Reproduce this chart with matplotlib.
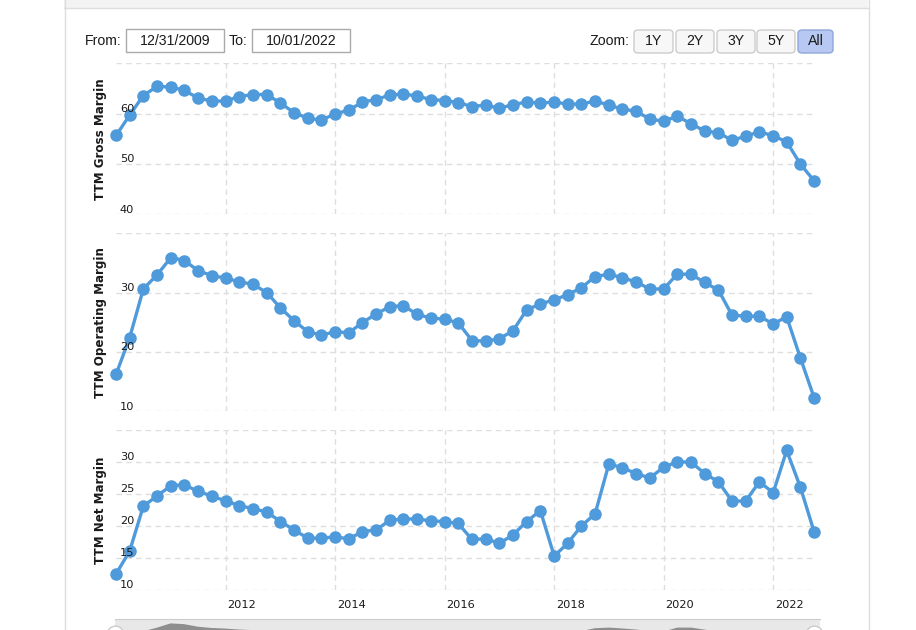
import matplotlib
matplotlib.use('Agg')
import matplotlib.pyplot as plt
from matplotlib.patches import Rectangle, FancyBboxPatch
from matplotlib.transforms import ScaledTranslation, blended_transform_factory
import numpy as np
import pandas as pd
import datetime as dt

# ---------------- data ----------------
dates = pd.date_range('2009-12-31', periods=52, freq='QE')

gross_margin = [55.7, 59.7, 63.6, 65.4, 65.3, 64.6, 63.1, 62.5, 62.5, 63.4,
                63.8, 63.8, 62.1, 60.2, 59.1, 58.7, 60.0, 60.65, 62.3, 62.8,
                63.7, 63.9, 63.5, 62.8, 62.6, 62.2, 61.4, 61.7, 61.05, 61.8,
                62.3, 62.1, 62.3, 61.9, 61.9, 62.5, 61.7, 60.9, 60.5, 58.9,
                58.5, 59.5, 58.0, 56.55, 56.2, 54.7, 55.5, 56.4, 55.6, 54.4,
                50.0, 46.65]

operating_margin = [16.25, 22.4, 30.6, 33.0, 35.9, 35.4, 33.7, 32.85, 32.45, 31.8,
                    31.4, 30.0, 27.4, 25.25, 23.4, 22.8, 23.4, 23.2, 24.9, 26.4,
                    27.6, 27.8, 26.3, 25.7, 25.5, 24.9, 21.9, 21.8, 22.2, 23.55,
                    27.05, 28.1, 28.75, 29.65, 30.8, 32.7, 33.1, 32.5, 31.8, 30.6,
                    30.6, 33.1, 33.1, 31.7, 30.4, 26.2, 26.0, 26.0, 24.7, 25.9,
                    19.0, 12.25]

net_margin = [12.55, 16.1, 23.1, 24.7, 26.3, 26.45, 25.4, 24.7, 23.9, 23.2,
              22.7, 22.2, 20.7, 19.4, 18.1, 18.1, 18.3, 18.0, 19.1, 19.4,
              20.9, 21.1, 21.1, 20.8, 20.7, 20.4, 17.9, 18.0, 17.3, 18.6,
              20.7, 22.4, 15.3, 17.3, 20.0, 21.9, 29.7, 29.1, 28.2, 27.5,
              29.2, 30.0, 30.0, 28.2, 26.9, 23.9, 23.9, 26.9, 25.2, 31.8,
              26.1, 19.1]

year_ticks = [2012, 2014, 2016, 2018, 2020, 2022]
panel_titles = ['TTM Gross Margin', 'TTM Operating Margin', 'TTM Net Margin']
panel_series = [gross_margin, operating_margin, net_margin]
panel_ylims = [(40, 70), (10, 40), (10, 35)]
panel_ysteps = [10, 10, 5]
from_date = '12/31/2009'
to_date = '10/01/2022'
zoom_buttons = ['1Y', '2Y', '3Y', '5Y', 'All']

# ---------------- layout ----------------
W, H = 916, 630
fig = plt.figure(figsize=(W / 100, H / 100), dpi=100)
fig.patch.set_facecolor('white')

def fx(x):
    return x / W

def fy(y):
    return 1 - y / H

def add_axes_px(left, top, right, bottom, **kw):
    return fig.add_axes([fx(left), fy(bottom), (right - left) / W, (bottom - top) / H], **kw)

BLUE = '#4f9ada'
GRID = '#dedede'
TXT = '#1a1a1a'
DASH = (0, (4, 3))

# page frame
fig.add_artist(Rectangle((fx(64), fy(8)), fx(868) - fx(64), 8 / H, transform=fig.transFigure,
                         facecolor='#f3f3f3', edgecolor='none', zorder=0))
fig.add_artist(plt.Line2D([fx(64), fx(868)], [fy(8), fy(8)], color='#dddddd', lw=1))
fig.add_artist(plt.Line2D([fx(64.5), fx(64.5)], [fy(0), fy(630)], color='#dddddd', lw=1))
fig.add_artist(plt.Line2D([fx(868.5), fx(868.5)], [fy(0), fy(630)], color='#dddddd', lw=1))

# From / To controls
ctrl_font = dict(family='Liberation Sans', fontsize=10.2, color=TXT, va='center')
cy = 41
fig.text(fx(85), fy(cy), 'From:', ha='left', **ctrl_font)
fig.text(fx(229), fy(cy), 'To:', ha='left', **ctrl_font)
for (x0, x1), txt in [((126, 224), from_date), ((252, 350), to_date)]:
    fig.add_artist(Rectangle((fx(x0), fy(52)), (x1 - x0) / W, 23 / H, transform=fig.transFigure,
                             facecolor='white', edgecolor='#aaaaaa', lw=1))
    fig.text(fx((x0 + x1) / 2), fy(cy), txt, ha='center', **ctrl_font)

# Zoom buttons
fig.text(fx(589), fy(cy), 'Zoom:', ha='left', **ctrl_font)
btn_x = [(634, 673), (676, 714), (717, 755), (757, 795), (798, 833)]
for (x0, x1), lab in zip(btn_x, zoom_buttons):
    sel = lab == 'All'
    fig.add_artist(FancyBboxPatch((fx(x0), fy(53)), (x1 - x0) / W, 23 / H,
                                  boxstyle='round,pad=0,rounding_size=0.005',
                                  transform=fig.transFigure,
                                  facecolor='#b7c9f2' if sel else '#f7f7f7',
                                  edgecolor='#8fa6d8' if sel else '#cccccc', lw=1))
    fig.text(fx((x0 + x1) / 2), fy(cy), lab, ha='center', **ctrl_font)

# ---------------- panels ----------------
L, R = 116.2, 814.1
panel_px = [(63.3, 214.3), (233.3, 411.0), (430.0, 590.0)]
year_dates = [dt.datetime(y, 1, 1) for y in year_ticks]

for i, (title, vals, (lo, hi), step, (top, bot)) in enumerate(
        zip(panel_titles, panel_series, panel_ylims, panel_ysteps, panel_px)):
    ax = add_axes_px(L, top, R, bot)
    ax.set_facecolor('none')
    ax.set_xlim(dates[0], dates[-1])
    ax.set_ylim(lo, hi)
    yt = np.arange(lo, hi + step / 2, step)
    # grid below the series
    for v in yt:
        ax.axhline(v, color=GRID, lw=1, ls=DASH, zorder=1)
    for d in year_dates:
        ax.axvline(d, color=GRID, lw=1, ls=DASH, zorder=1)
    ax.plot(dates, vals, color=BLUE, lw=2.4, marker='o', ms=8, mec=BLUE, mfc=BLUE,
            clip_on=False, zorder=3)
    for s in ax.spines.values():
        s.set_visible(False)
    ax.set_yticks(yt)
    labels = [str(int(v)) for v in yt]
    labels[-1] = ''
    ax.set_yticklabels(labels)
    ax.set_xticks(year_dates)
    ax.yaxis.set_zorder(5)
    ax.xaxis.set_zorder(5)
    ax.tick_params(axis='y', length=0, pad=-2.6, labelsize=8.2, labelcolor=TXT)
    ax.tick_params(axis='x', length=0, pad=7.0, labelsize=8.2, labelcolor=TXT,
                   labelbottom=(i == 2))
    up = ScaledTranslation(0, 1.5 / 100, fig.dpi_scale_trans)
    for lab in ax.get_yticklabels():
        lab.set_horizontalalignment('left')
        lab.set_verticalalignment('baseline')
        lab.set_transform(lab.get_transform() + up)
    if i == 2:
        ax.set_xticklabels([str(y) for y in year_ticks])
        shift = ScaledTranslation(16 / 100, 0, fig.dpi_scale_trans)
        for lab in ax.get_xticklabels():
            lab.set_transform(lab.get_transform() + shift)
    ax.set_ylabel(title, fontsize=8.6, fontweight='bold', color=TXT)
    ax.yaxis.set_label_coords(-0.013, 0.5)

# ---------------- navigator ----------------
nav = add_axes_px(115, 619, 820, 659)
nav.set_facecolor('#e8e8e8')
nav.fill_between(dates, operating_margin, 0, color='#8e8e8e', lw=0)
nav.set_xlim(dates[0] - pd.Timedelta(days=2), dates[-1] + pd.Timedelta(days=40))
nav.set_ylim(11.8, 38.5)
nav.set_xticks([])
nav.set_yticks([])
for k, s in nav.spines.items():
    s.set_visible(k == 'top')
nav.spines['top'].set_color('#cccccc')
bt = blended_transform_factory(nav.transData, nav.transAxes)
nav.plot([dates[0], dates[-1]], [0.62, 0.62], ls='none', marker='o', ms=12,
         mfc='white', mec='#cccccc', mew=1, transform=bt, clip_on=False, zorder=5)

fig.savefig('out.png', dpi=100)
